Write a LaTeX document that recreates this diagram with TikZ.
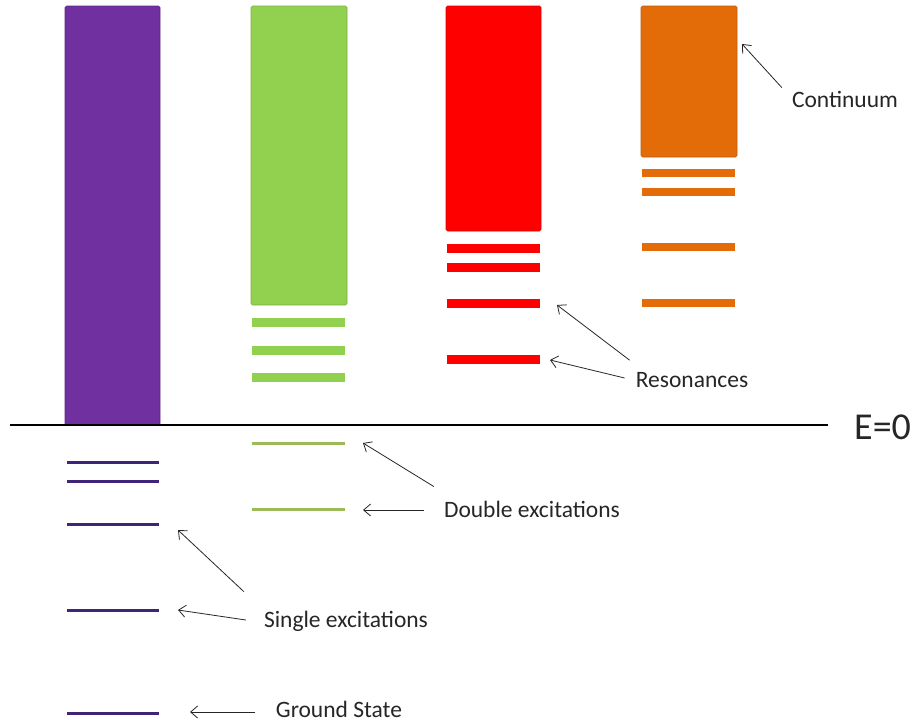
\documentclass[tikz,border=0pt]{standalone}
\usepackage{fontspec}
\setmainfont{Carlito}
\usepackage{tikz}
\usetikzlibrary{arrows.meta}
\definecolor{colpurple}{RGB}{112,48,160}
\definecolor{lvlpurple}{RGB}{64,36,120}
\definecolor{colgreen}{RGB}{146,208,80}
\definecolor{lvlgreen}{RGB}{155,187,89}
\definecolor{colred}{RGB}{255,0,0}
\definecolor{colorange}{RGB}{227,108,9}

\begin{document}
\begin{tikzpicture}[x=1pt,y=-1pt,
  band/.style={fill=#1,draw=#1!85!black,line width=0.6pt,rounded corners=1.5pt},
  bar/.style={fill=#1,draw=none},
  lvl/.style={draw=#1,line width=3pt},
  lbl/.style={font=\fontsize{23.5}{28}\selectfont,inner sep=0pt,text=black!85},
  ptr/.style={draw=black!85,line width=0.8pt,-{Straight Barb[length=7pt,width=12pt]}}]
\useasboundingbox (0,0) rectangle (915,723);
% continua
\path[band=colpurple] (65,6) rectangle (160,425);
\path[band=colgreen] (251,6) rectangle (347,305);
\path[band=colred] (446,6) rectangle (541,231);
\path[band=colorange] (641,6) rectangle (737,157);
% bound levels below E=0
\foreach \y in %
{462,481,524,610,713} {
   \draw[lvl=lvlpurple] (67,\y) -- (159,\y);
}
\foreach \y in %
{443,509} {
   \draw[lvl=lvlgreen] (252,\y) -- (345,\y);
}
% resonances above E=0
\foreach \y in %
{318,346,373} {
   \path[bar=colgreen] (252,\y) rectangle (345,\y+9);
}
\foreach \y in %
{244,263,299,355} {
   \path[bar=colred] (447,\y) rectangle (540,\y+9);
}
\foreach \y in %
{169,188,243,299} {
   \path[bar=colorange] (642,\y) rectangle (735,\y+8);
}
% threshold
\coordinate (e0l) at (10,425);
\node[lbl,font=\fontsize{38}{42}\selectfont,anchor=west] (ezero) at (854,427) {E=0};
\draw[line width=1.6pt] (e0l) -- (828,425);
% labels
\node[lbl] (cont) at (845,99) {Continuum};
\node[lbl] (reso) at (692,380) {Resonances};
\node[lbl] (dexc) at (532,509) {Double excitations};
\node[lbl] (sexc) at (346,621) {Single excitations};
\node[lbl] (gnd) at (339,709) {Ground State};
% pointers
\coordinate (contTip) at (742,44);
\coordinate (resoTipA) at (557,305);
\coordinate (resoTipB) at (550,360);
\coordinate (dexcTipA) at (363,443);
\coordinate (dexcTipB) at (363,510);
\coordinate (sexcTipA) at (178,530);
\coordinate (sexcTipB) at (178,610);
\coordinate (gndTip) at (190,712);
\draw[ptr] (cont.north west) ++(-10,-3) -- (contTip);
\draw[ptr] (reso.north west) ++(-6,-12) -- (resoTipA);
\draw[ptr] (reso.west) ++(-11,-2) -- (resoTipB);
\draw[ptr] (dexc.north west) ++(-10,-14) -- (dexcTipA);
\draw[ptr] (dexc.west) ++(-20,1) -- (dexcTipB);
\draw[ptr] (sexc.north west) ++(-20,-19) -- (sexcTipA);
\draw[ptr] (sexc.west) ++(-18,-1) -- (sexcTipB);
\draw[ptr] (gnd.west) ++(-21,3) -- (gndTip);
\end{tikzpicture}
\end{document}
